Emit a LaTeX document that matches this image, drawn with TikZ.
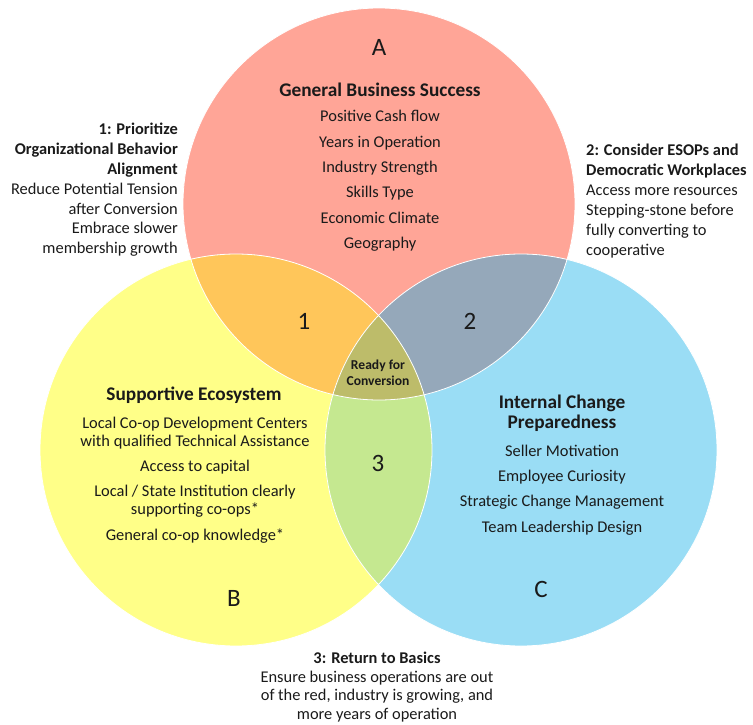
\documentclass[tikz,border=0pt]{standalone}
\usepackage{fontspec}
\setmainfont{Carlito}
\definecolor{cA}{HTML}{FFA597}
\definecolor{cB}{HTML}{FFFF88}
\definecolor{cC}{HTML}{9ADDF5}
\definecolor{cAB}{HTML}{FFC65A}
\definecolor{cAC}{HTML}{95A8BA}
\definecolor{cBC}{HTML}{C5E890}
\definecolor{cABC}{HTML}{BDBC6A}
\definecolor{txt}{HTML}{1A1A1A}
\tikzset{
  big/.style={font=\fontsize{25}{28}\selectfont, text=txt, inner sep=0pt},
  head/.style={font=\fontsize{19.3}{22}\selectfont\bfseries, text=txt, inner sep=0pt},
  body/.style={text=txt, inner sep=0pt},
}
\begin{document}
\begin{tikzpicture}[x=1pt,y=-1pt]
\useasboundingbox (0,0) rectangle (753,725);
\def\ca{(379,204) circle[radius=196pt]}
\def\cb{(236,450) circle[radius=196pt]}
\def\cc{(521,450) circle[radius=196pt]}
\fill[cA] \ca;
\fill[cB] \cb;
\fill[cC] \cc;
\begin{scope}
  \clip \ca;
  \fill[cAB] \cb;
  \fill[cAC] \cc;
\end{scope}
\begin{scope}
  \clip \cb;
  \fill[cBC] \cc;
  \clip \cc;
  \fill[cABC] \ca;
\end{scope}
\draw[white, line width=0.8pt] \ca;
\draw[white, line width=0.8pt] \cb;
\draw[white, line width=0.8pt] \cc;

\node[big] (la) at (379,47) {A};
\node[big] (lb) at (234,598) {B};
\node[big] (lc) at (541,589) {C};
\node[big] (n1) at (304,321) {1};
\node[big] (n2) at (470,321) {2};
\node[big] (n3) at (378,463) {3};

\node[head] (ta) at (380,90) {General Business Success};
\node[body, align=center, font=\fontsize{16.4}{25.4}\selectfont] (la2) at (380,181)
  {Positive Cash flow\\Years in Operation\\Industry Strength\\Skills Type\\Economic Climate\\Geography};

\node[body, align=right, anchor=east, font=\fontsize{16.4}{19.8}\selectfont] (left) at (178,190)
  {\textbf{1: Prioritize}\\\textbf{Organizational Behavior}\\\textbf{Alignment}\\Reduce Potential Tension\\after Conversion\\Embrace slower\\membership growth};

\node[body, align=left, anchor=west, font=\fontsize{16.4}{20}\selectfont] (right) at (586,201.5)
  {\textbf{2: Consider ESOPs and}\\\textbf{Democratic Workplaces}\\Access more resources\\Stepping-stone before\\fully converting to\\cooperative};

\node[body, align=center, font=\fontsize{13.6}{16}\selectfont\bfseries] (ready) at (378,373)
  {Ready for\\Conversion};

\node[head] (tb) at (194,395) {Supportive Ecosystem};
\node[body, align=center, font=\fontsize{16.4}{17.5}\selectfont] (lbb) at (195,480)
  {Local Co-op Development Centers\\with qualified Technical Assistance\\[8pt]Access to capital\\[7.5pt]Local / State Institution clearly\\supporting co-ops*\\[8.5pt]General co-op knowledge*};

\node[head, align=center, font=\fontsize{19.3}{20}\selectfont\bfseries] (tc) at (562,413)
  {Internal Change\\Preparedness};
\node[body, align=center, font=\fontsize{16.4}{25.3}\selectfont] (lcc) at (562,490)
  {Seller Motivation\\Employee Curiosity\\Strategic Change Management\\Team Leadership Design};

\node[body, align=center, font=\fontsize{16.4}{18.7}\selectfont] (bottom) at (377,687)
  {\textbf{3: Return to Basics}\\Ensure business operations are out\\of the red, industry is growing, and\\more years of operation};
\end{tikzpicture}
\end{document}
